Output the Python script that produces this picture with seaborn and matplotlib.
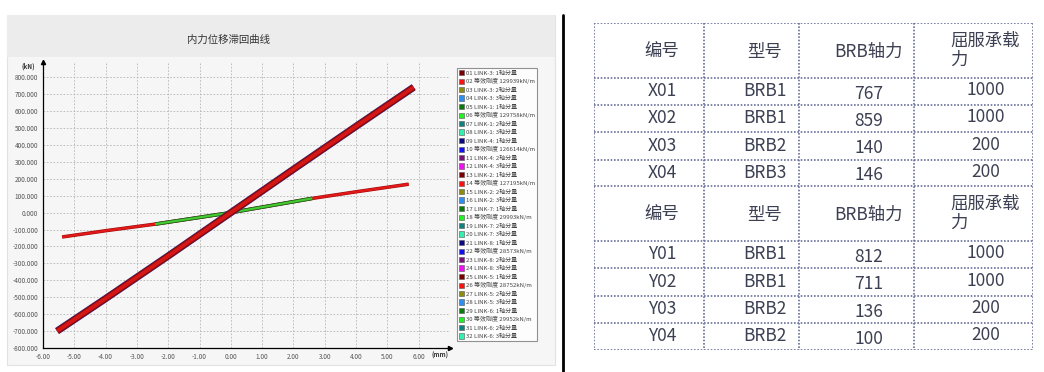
import matplotlib
matplotlib.use("Agg")
import matplotlib.pyplot as plt
import seaborn as sns
import pandas as pd
from matplotlib.patches import Patch, Rectangle
from matplotlib.lines import Line2D

# ------------------------------------------------------------
# data
# ------------------------------------------------------------
title = "内力位移滞回曲线"

# steep BRB links (LINK-1..4), displacement mm / force kN
steep_x = [-5.55, -4.0, -2.0, 0.0, 2.0, 4.0, 5.84]
steep_y = [-700, -508, -256, 0, 256, 510, 741]

# soft BRB links (LINK-5..8)
soft_x = [-5.39, -4.0, -2.42, 0.0, 2.6, 4.0, 5.68]
soft_y = [-144, -107, -68, 0, 84, 123, 168]
soft_green_x = [-2.42, 0.0, 2.6]
soft_green_y = [-68, 0, 84]

x_ticks = [-6, -5, -4, -3, -2, -1, 0, 1, 2, 3, 4, 5, 6]
y_ticks = [-800, -700, -600, -500, -400, -300, -200, -100, 0,
           100, 200, 300, 400, 500, 600, 700, 800]

legend_labels = [
    "01 LINK-3: 1轴分量", "02 等效刚度 129939kN/m", "03 LINK-3: 2轴分量", "04 LINK-3: 3轴分量",
    "05 LINK-1: 1轴分量", "06 等效刚度 129758kN/m", "07 LINK-1: 2轴分量", "08 LINK-1: 3轴分量",
    "09 LINK-4: 1轴分量", "10 等效刚度 126614kN/m", "11 LINK-4: 2轴分量", "12 LINK-4: 3轴分量",
    "13 LINK-2: 1轴分量", "14 等效刚度 127195kN/m", "15 LINK-2: 2轴分量", "16 LINK-2: 3轴分量",
    "17 LINK-7: 1轴分量", "18 等效刚度 29993kN/m", "19 LINK-7: 2轴分量", "20 LINK-7: 3轴分量",
    "21 LINK-8: 1轴分量", "22 等效刚度 28573kN/m", "23 LINK-8: 2轴分量", "24 LINK-8: 3轴分量",
    "25 LINK-5: 1轴分量", "26 等效刚度 28752kN/m", "27 LINK-5: 2轴分量", "28 LINK-5: 3轴分量",
    "29 LINK-6: 1轴分量", "30 等效刚度 29952kN/m", "31 LINK-6: 2轴分量", "32 LINK-6: 3轴分量",
]
legend_cycle = ["#7a0000", "#ff1010", "#8c8c10", "#2f8ff0", "#0a7a0a", "#22f022",
                "#138080", "#33f0b0", "#0a0a80", "#1010f0", "#7a107a", "#f010f0"]

# table
headers = ["编号", "型号", "BRB轴力", "屈服承载\n力"]
ids_x = ["X01", "X02", "X03", "X04"]
types_x = ["BRB1", "BRB1", "BRB2", "BRB3"]
axial_x = [767, 859, 140, 146]
yield_x = [1000, 1000, 200, 200]
ids_y = ["Y01", "Y02", "Y03", "Y04"]
types_y = ["BRB1", "BRB1", "BRB2", "BRB2"]
axial_y = [812, 711, 136, 100]
yield_y = [1000, 1000, 200, 200]

# ------------------------------------------------------------
# style
# ------------------------------------------------------------
sns.set_theme(style="whitegrid")
plt.rcParams["font.family"] = ["Noto Sans CJK SC", "DejaVu Sans"]

W, H = 1044, 372
fig = plt.figure(figsize=(W / 100, H / 100), dpi=100)
fig.patch.set_facecolor("white")

def fx(px):
    return px / W

def fy(py):
    return 1 - py / H

# grey panel + title band behind the chart
fig.add_artist(Rectangle((fx(7), fy(365)), fx(548), 350 / H, transform=fig.transFigure,
                         facecolor="#f6f6f6", edgecolor="#e2e2e2", lw=0.8, zorder=0))
fig.add_artist(Rectangle((fx(7), fy(57)), fx(548), 42 / H, transform=fig.transFigure,
                         facecolor="#ececec", edgecolor="none", zorder=0))
fig.text(fx(228), fy(40), title, ha="center", va="center", fontsize=7.5, color="#333333")

# separator
fig.add_artist(Line2D([fx(563), fx(563)], [fy(15), fy(372)], transform=fig.transFigure,
                      color="black", lw=2))

# ------------------------------------------------------------
# hysteresis chart
# ------------------------------------------------------------
ax = fig.add_axes([fx(43), fy(348), fx(407), 286 / H])
ax.set_facecolor("#f6f6f6")

steep = pd.DataFrame({"x": steep_x, "y": steep_y})
soft = pd.DataFrame({"x": soft_x, "y": soft_y})
soft_g = pd.DataFrame({"x": soft_green_x, "y": soft_green_y})

kw = dict(ax=ax, sort=False, solid_capstyle="butt")
sns.lineplot(data=soft, x="x", y="y", color="#9a0c0c", lw=2.5, zorder=3, **kw)
sns.lineplot(data=soft, x="x", y="y", color="#e31818", lw=1.7, zorder=3, **kw)
sns.lineplot(data=soft_g, x="x", y="y", color="#1c5e1c", lw=2.6, zorder=4, **kw)
sns.lineplot(data=soft_g, x="x", y="y", color="#44cc30", lw=1.5, zorder=4, **kw)

sns.lineplot(data=steep, x="x", y="y", color="#3a2a8a", lw=5.2, zorder=5, **kw)
sns.lineplot(data=steep, x="x", y="y", color="#880a0a", lw=4.5, zorder=5, **kw)
sns.lineplot(data=steep, x="x", y="y", color="#d41616", lw=2.8, zorder=5, **kw)

ax.set_xlim(-6, 7.0)
ax.set_ylim(-800, 890)
ax.set_xticks(x_ticks)
ax.set_yticks(y_ticks)
ax.set_xticklabels([f"{v:.2f}" for v in x_ticks])
ax.set_yticklabels([f"{v:.3f}" for v in y_ticks])
ax.tick_params(axis="both", labelsize=4.6, colors="#555555", length=2, width=0.5, pad=1.5)
ax.set_xlabel("")
ax.set_ylabel("")
ax.grid(True, color="#b5b5b5", lw=0.6, ls=(0, (2, 2)))
for s in ["top", "right"]:
    ax.spines[s].set_visible(False)
for s in ["left", "bottom"]:
    ax.spines[s].set_visible(True)
    ax.spines[s].set_color("black")
    ax.spines[s].set_linewidth(0.9)
ax.plot(0, 1, "^", color="black", ms=3, transform=ax.transAxes, clip_on=False)
ax.plot(1, 0, ">", color="black", ms=3, transform=ax.transAxes, clip_on=False)
fig.text(fx(28), fy(66), "(kN)", ha="center", va="center", fontsize=4.6,
         color="#333333", fontweight="bold")
fig.text(fx(440), fy(355), "(mm)", ha="center", va="center", fontsize=4.6,
         color="#333333", fontweight="bold")

handles = [Patch(facecolor=legend_cycle[i % 12], edgecolor="#555555", lw=0.4)
           for i in range(len(legend_labels))]
leg = fig.legend(handles, legend_labels, loc="upper left",
                 bbox_to_anchor=(fx(457), fy(68)), fontsize=4.3, frameon=True,
                 fancybox=False, edgecolor="#777777", facecolor="white",
                 labelspacing=0.45, handlelength=0.9, handleheight=1.0,
                 handletextpad=0.3, borderpad=0.3, borderaxespad=0)
leg.get_frame().set_linewidth(0.8)
for t in leg.get_texts():
    t.set_color("#444444")

# ------------------------------------------------------------
# table
# ------------------------------------------------------------
tx = fig.add_axes([fx(594), fy(350), fx(439), 327 / H])
tx.set_xlim(594, 1033)
tx.set_ylim(350, 23)
tx.axis("off")

row_edges = [23, 78, 105, 132, 160, 186, 241, 268, 296, 323, 350]
col_edges = [594, 704, 799, 914, 1033]
line_col = "#6b7099"
tx.hlines(row_edges, col_edges[0], col_edges[-1], colors=line_col, lw=1.2, ls=(0, (1, 1)))
tx.vlines(col_edges, row_edges[0], row_edges[-1], colors=line_col, lw=1.2, ls=(0, (1, 1)))

txt_col = "#3c4052"
col_cx = [662, 765, 869, 986]
fs = 12.5

def draw_header(top, bottom):
    cy = (top + bottom) / 2
    for i, h in enumerate(headers[:3]):
        tx.text(col_cx[i], cy + 1, h, ha="center", va="center", fontsize=fs, color=txt_col)
    tx.text(950, cy, headers[3], ha="left", va="center", fontsize=fs, color=txt_col,
            linespacing=1.1)

def draw_rows(top_idx, ids, types, axial, yld):
    for r in range(len(ids)):
        cy = (row_edges[top_idx + r] + row_edges[top_idx + r + 1]) / 2
        vals = [ids[r], types[r], str(axial[r]), str(yld[r])]
        offs = [0, 0, 2.5, -1]
        for i, v in enumerate(vals):
            tx.text(col_cx[i], cy + offs[i], v, ha="center", va="center",
                    fontsize=fs, color=txt_col)

draw_header(row_edges[0], row_edges[1])
draw_rows(1, ids_x, types_x, axial_x, yield_x)
draw_header(row_edges[5], row_edges[6])
draw_rows(6, ids_y, types_y, axial_y, yield_y)

fig.savefig("out.png", dpi=100)
